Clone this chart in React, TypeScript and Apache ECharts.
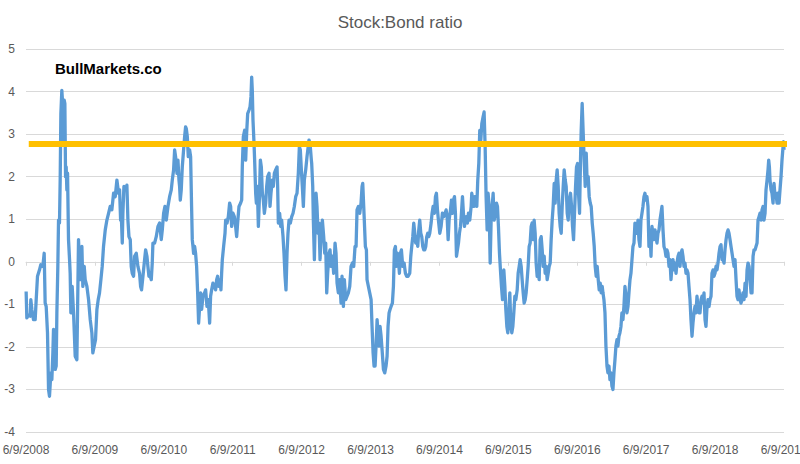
import React, { useEffect, useRef } from "react";
import * as echarts from "echarts";

// x = years since 6/9/2008, y = stock:bond ratio
const tickLabels = [
  "6/9/2008", "6/9/2009", "6/9/2010", "6/9/2011", "6/9/2012", "6/9/2013",
  "6/9/2014", "6/9/2015", "6/9/2016", "6/9/2017", "6/9/2018", "6/9/2019",
];

const seg2008: number[][] = [
  [0.002,-0.70],[0.012,-1.32],[0.036,-1.25],[0.061,-1.28],[0.070,-0.89],[0.085,-1.12],[0.109,-1.36],[0.133,-1.36],[0.148,-0.89],[0.167,-0.34],[0.196,-0.19],[0.215,-0.07],[0.244,-0.11],[0.264,0.20],[0.278,-0.97],[0.293,-1.05],[0.312,-1.67],[0.327,-3.00],[0.341,-3.16],[0.361,-2.61],[0.375,-2.77],[0.390,-2.14],[0.399,-1.59],[0.409,-1.67],[0.424,-2.53],[0.438,-2.45],[0.448,-1.20],[0.462,-0.11],[0.472,0.98],[0.486,0.91],[0.496,1.92],[0.506,3.48],[0.520,4.03],[0.535,3.64],[0.545,2.86],[0.554,3.80],[0.564,3.72],[0.574,2.00],[0.583,2.23],[0.593,1.69],[0.603,2.08],[0.617,0.52],[0.632,0.05],[0.641,-0.27],[0.651,-1.20],[0.670,-0.58],[0.690,-1.20],[0.714,-2.22],[0.738,-2.30],[0.748,-1.20],[0.762,0.52],[0.787,-0.42],[0.811,0.36],[0.825,-0.58],[0.845,-0.11],[0.859,-0.42],[0.884,-0.58],[0.908,-0.89],[0.932,-1.36],[0.956,-1.67],[0.970,-2.14],[0.990,-1.98],[1.009,-1.83],[1.029,-1.12],[1.048,-0.89],[1.067,-0.73],[1.087,-0.42],[1.106,-0.11],[1.125,0.36],[1.150,0.75],[1.174,0.98],[1.198,1.14],[1.222,1.30],[1.246,1.22],[1.271,1.61],[1.295,1.53],[1.319,1.92],[1.343,1.61],
];

const seg2009: number[][] = [
  [1.358,1.69],[1.373,0.98],[1.382,1.14],[1.397,0.44],[1.406,1.14],[1.421,1.77],[1.445,1.69],[1.464,1.80],[1.479,0.98],[1.494,0.59],[1.513,0.52],[1.527,-0.11],[1.542,-0.27],[1.561,-0.34],[1.576,0.13],[1.600,0.20],[1.624,-0.11],[1.648,-0.27],[1.663,-0.58],[1.677,-0.66],[1.697,-0.34],[1.721,0.05],[1.736,0.28],[1.755,0.13],[1.769,-0.11],[1.784,-0.34],[1.803,-0.34],[1.818,-0.42],[1.832,-0.03],[1.842,0.44],[1.866,0.44],[1.890,0.59],[1.915,0.83],[1.939,0.91],[1.963,0.52],[1.978,0.75],[1.997,1.14],[2.016,1.30],[2.036,0.98],[2.060,1.30],[2.084,1.53],[2.108,1.69],[2.123,1.92],[2.142,2.16],[2.157,2.63],[2.171,2.47],[2.191,2.08],[2.205,2.39],[2.220,1.92],[2.229,1.77],[2.239,1.45],[2.253,1.69],[2.268,2.23],[2.287,2.63],[2.302,2.94],[2.316,3.17],[2.326,3.13],[2.341,2.94],[2.355,2.47],[2.374,2.63],[2.389,2.47],[2.403,1.30],[2.413,0.52],[2.423,0.36],[2.432,0.20],[2.447,0.36],[2.461,0.20],[2.476,-0.11],[2.491,-0.73],[2.505,-1.44],[2.520,-1.05],[2.534,-0.73],[2.549,-1.12],[2.568,-0.81],[2.592,-0.73],[2.607,-0.66],[2.626,-1.05],[2.645,-0.89],[2.665,-1.44],[2.679,-0.81],[2.694,-0.66],[2.713,-0.50],[2.733,-0.58],
];

const seg2011: number[][] = [
  [2.752,-0.66],[2.767,-0.42],[2.781,-0.34],[2.800,-0.58],[2.815,-0.42],[2.829,-0.66],[2.839,-0.27],[2.849,0.05],[2.868,0.36],[2.888,0.67],[2.897,0.98],[2.917,0.91],[2.936,1.06],[2.955,1.38],[2.970,1.30],[2.984,0.83],[3.004,1.14],[3.023,1.06],[3.042,0.83],[3.057,0.59],[3.071,0.91],[3.091,1.30],[3.115,1.38],[3.130,1.45],[3.139,2.23],[3.154,2.94],[3.173,3.09],[3.188,2.39],[3.202,3.02],[3.217,3.48],[3.236,3.56],[3.251,3.64],[3.265,3.88],[3.275,4.34],[3.284,4.03],[3.294,3.33],[3.309,2.78],[3.318,2.39],[3.333,1.61],[3.343,1.38],[3.357,1.77],[3.372,0.83],[3.386,1.45],[3.401,2.39],[3.415,2.23],[3.430,1.61],[3.444,1.45],[3.459,1.14],[3.478,1.38],[3.493,1.77],[3.507,2.00],[3.527,2.08],[3.541,1.30],[3.555,1.61],[3.575,1.92],[3.589,1.77],[3.604,2.08],[3.623,2.16],[3.643,2.23],[3.652,1.77],[3.662,0.91],[3.681,1.14],[3.696,0.83],[3.710,0.98],[3.730,0.59],[3.744,0.20],[3.759,-0.34],[3.773,-0.66],[3.788,0.20],[3.802,0.67],[3.817,0.98],[3.836,0.91],[3.856,1.06],[3.875,1.14],[3.894,1.30],[3.914,1.53],[3.933,1.61],[3.952,2.08],[3.967,2.70],[3.981,2.63],[3.996,2.16],[4.010,1.77],[4.025,1.30],[4.039,1.92],[4.059,2.16],[4.078,2.47],[4.107,2.86],[4.122,2.78],[4.141,2.39],
];

const seg2012: number[][] = [
  [4.146,2.31],[4.161,1.77],[4.170,0.98],[4.185,0.05],[4.194,0.75],[4.209,1.61],[4.223,1.30],[4.238,0.67],[4.252,0.91],[4.267,0.05],[4.282,0.67],[4.301,0.98],[4.320,0.59],[4.335,0.20],[4.349,0.44],[4.364,-0.73],[4.378,-0.27],[4.398,0.20],[4.412,0.28],[4.427,-0.11],[4.446,0.13],[4.465,-0.27],[4.485,0.44],[4.499,0.20],[4.514,-0.50],[4.533,-0.73],[4.553,-0.42],[4.572,-0.97],[4.586,-0.34],[4.606,-1.05],[4.620,-0.42],[4.640,-0.89],[4.659,-0.81],[4.678,-0.73],[4.698,-0.58],[4.717,-0.11],[4.737,-0.03],[4.756,-0.11],[4.775,0.36],[4.790,0.36],[4.804,1.22],[4.824,1.30],[4.843,1.14],[4.862,1.38],[4.877,1.77],[4.887,1.84],[4.901,1.30],[4.911,0.91],[4.925,0.36],[4.940,0.28],[4.949,-0.42],[4.969,-0.58],[4.988,-0.73],[5.008,-0.89],[5.022,-1.52],[5.037,-2.14],[5.051,-2.45],[5.066,-2.45],[5.080,-1.98],[5.095,-1.36],[5.109,-1.67],[5.124,-1.98],[5.138,-1.52],[5.153,-1.75],[5.167,-2.06],[5.187,-2.53],[5.206,-2.61],[5.225,-2.45],[5.240,-2.22],[5.254,-1.52],[5.269,-1.20],[5.283,-1.12],[5.298,-1.05],[5.317,-0.97],[5.332,-0.58],[5.346,0.28],[5.361,0.36],[5.375,-0.11],[5.390,0.20],[5.404,0.05],[5.419,-0.27],[5.433,0.20],[5.448,0.28],[5.467,-0.11],[5.487,-0.03],[5.506,-0.27],[5.525,-0.34],[5.545,-0.34],
];

const seg2014: number[][] = [
  [5.555,-0.34],[5.569,-0.27],[5.584,0.13],[5.598,0.36],[5.613,0.59],[5.627,0.91],[5.642,0.67],[5.656,0.44],[5.671,0.59],[5.685,0.36],[5.700,0.75],[5.714,0.98],[5.729,0.67],[5.743,0.59],[5.758,0.36],[5.772,0.28],[5.787,0.28],[5.801,0.36],[5.816,0.59],[5.830,0.67],[5.845,0.59],[5.859,0.67],[5.879,0.91],[5.893,1.14],[5.908,1.30],[5.927,1.14],[5.942,1.53],[5.956,1.61],[5.971,1.22],[5.985,0.98],[6.005,0.67],[6.024,0.83],[6.043,1.14],[6.063,1.06],[6.082,1.14],[6.097,1.22],[6.111,1.06],[6.126,0.52],[6.140,0.98],[6.160,1.22],[6.174,1.45],[6.189,1.14],[6.203,1.45],[6.218,1.53],[6.232,1.14],[6.247,0.13],[6.261,0.28],[6.276,0.44],[6.290,0.67],[6.305,0.83],[6.319,1.14],[6.334,1.53],[6.348,1.14],[6.363,0.83],[6.377,0.98],[6.392,1.06],[6.406,0.91],[6.421,1.14],[6.440,0.98],[6.460,1.30],[6.469,1.61],[6.484,1.45],[6.498,1.30],[6.513,1.53],[6.527,1.53],[6.542,1.30],[6.556,1.92],[6.571,2.31],[6.585,3.09],[6.600,2.86],[6.615,3.25],[6.634,3.41],[6.648,3.52],[6.663,2.70],[6.677,1.53],[6.692,0.75],[6.706,1.61],[6.721,1.30],[6.736,-0.03],[6.750,0.98],[6.765,1.30],[6.779,1.61],[6.794,0.98],[6.813,1.14],[6.827,1.38],[6.842,1.30],[6.856,0.83],[6.871,0.20],[6.885,-0.19],[6.900,-0.58],[6.915,-0.89],[6.929,-0.42],
];

const seg2015: number[][] = [
  [6.934,-0.19],[6.949,-0.58],[6.963,-1.12],[6.978,-1.52],[6.992,-1.67],[7.007,-1.20],[7.021,-0.73],[7.036,-1.52],[7.050,-1.67],[7.065,-1.52],[7.079,-1.20],[7.094,-0.81],[7.108,-0.89],[7.128,-0.66],[7.142,-0.27],[7.157,-0.11],[7.171,0.05],[7.186,-0.11],[7.200,-0.42],[7.215,-0.73],[7.229,-0.97],[7.244,-0.89],[7.258,-0.73],[7.273,-0.42],[7.287,-0.11],[7.302,0.36],[7.316,0.44],[7.331,0.83],[7.345,0.91],[7.360,0.52],[7.374,0.98],[7.389,0.67],[7.403,-0.03],[7.418,-0.34],[7.433,-0.19],[7.447,-0.42],[7.462,0.52],[7.476,0.59],[7.491,0.28],[7.505,-0.11],[7.520,0.13],[7.534,-0.27],[7.549,-0.11],[7.563,-0.42],[7.578,-0.27],[7.592,-0.11],[7.607,-0.03],[7.621,0.52],[7.636,0.98],[7.650,1.30],[7.665,1.84],[7.679,1.38],[7.694,1.92],[7.708,2.16],[7.723,1.77],[7.737,1.14],[7.752,0.83],[7.767,0.67],[7.781,1.30],[7.796,1.77],[7.810,2.16],[7.825,1.92],[7.839,1.77],[7.854,1.14],[7.868,0.98],[7.883,1.45],[7.902,1.61],[7.917,1.30],[7.931,0.83],[7.946,0.52],[7.960,1.14],[7.975,1.77],[7.989,2.23],[8.004,2.31],[8.018,1.61],[8.033,1.14],[8.047,2.39],[8.057,3.09],[8.071,3.72],[8.086,3.02],[8.100,2.39],[8.115,1.77],[8.130,2.55],[8.144,1.84],[8.159,2.00],[8.173,1.53],[8.188,1.38],[8.202,1.30],[8.217,0.91],[8.231,0.67],[8.246,0.36],[8.260,-0.11],[8.275,-0.34],[8.289,-0.11],[8.304,-0.42],[8.318,-0.66],[8.333,-0.50],[8.347,-0.73],[8.362,-0.58],
];

const seg2016: number[][] = [
  [8.373,-0.73],[8.387,-0.89],[8.402,-1.20],[8.416,-1.98],[8.431,-2.45],[8.445,-2.61],[8.460,-2.45],[8.474,-2.77],[8.489,-2.61],[8.503,-2.92],[8.518,-3.00],[8.532,-2.61],[8.547,-2.30],[8.561,-1.98],[8.576,-1.83],[8.590,-1.98],[8.605,-1.75],[8.619,-1.67],[8.634,-1.52],[8.648,-1.20],[8.663,-1.36],[8.677,-1.05],[8.692,-0.58],[8.707,-0.81],[8.721,-1.20],[8.736,-1.05],[8.750,-0.73],[8.765,-0.42],[8.779,-0.27],[8.794,0.05],[8.808,0.36],[8.823,0.44],[8.837,0.91],[8.852,0.75],[8.866,0.67],[8.881,0.98],[8.895,0.52],[8.910,0.36],[8.924,0.98],[8.939,1.14],[8.953,1.30],[8.968,1.53],[8.982,1.61],[8.997,1.45],[9.011,1.53],[9.026,1.30],[9.040,0.36],[9.055,0.75],[9.070,0.13],[9.084,0.83],[9.099,0.67],[9.113,0.52],[9.128,0.75],[9.142,0.59],[9.157,0.44],[9.171,0.67],[9.186,0.75],[9.200,0.98],[9.215,1.14],[9.229,1.30],[9.244,0.75],[9.258,0.36],[9.273,0.28],[9.287,0.13],[9.302,0.28],[9.316,0.20],[9.331,-0.11],[9.345,0.05],[9.360,-0.42],[9.374,-0.11],[9.389,0.05],[9.403,-0.19],[9.418,-0.03],[9.433,-0.27],[9.447,-0.03],[9.462,0.13],[9.476,0.20],[9.491,-0.11],[9.505,0.20],[9.520,0.28],[9.534,0.13],[9.549,-0.11],[9.563,-0.03],[9.578,-0.27],[9.592,-0.19],[9.607,-0.27],[9.621,-0.58],[9.636,-0.89],[9.650,-1.36],[9.665,-1.75],[9.679,-1.44],[9.694,-1.20],[9.708,-1.05],[9.723,-1.20],[9.737,-0.81],[9.752,-1.05],[9.766,-1.20],
];

const seg2018: number[][] = [
  [9.781,-1.20],[9.796,-0.89],[9.810,-0.81],[9.825,-0.97],[9.839,-0.73],[9.854,-1.36],[9.868,-1.52],[9.883,-1.05],[9.897,-0.89],[9.912,-1.05],[9.926,-0.89],[9.941,-0.81],[9.955,-0.27],[9.970,-0.19],[9.984,-0.34],[9.999,-0.27],[10.013,-0.11],[10.028,-0.19],[10.042,-0.03],[10.057,0.20],[10.072,0.36],[10.086,0.40],[10.101,0.05],[10.115,0.05],[10.130,-0.03],[10.144,0.28],[10.159,0.52],[10.173,0.67],[10.188,0.75],[10.202,0.67],[10.217,0.52],[10.231,0.36],[10.246,0.20],[10.260,0.05],[10.275,-0.11],[10.289,0.05],[10.304,-0.42],[10.318,-0.81],[10.333,-0.89],[10.347,-0.66],[10.362,-0.89],[10.376,-0.97],[10.391,-0.89],[10.405,-0.73],[10.420,-0.89],[10.435,-0.50],[10.449,-0.81],[10.464,-0.19],[10.478,-0.03],[10.493,-0.11],[10.507,-0.42],[10.522,-0.73],[10.536,-0.73],[10.551,0.13],[10.565,0.28],[10.580,0.28],[10.594,0.36],[10.609,0.44],[10.623,0.98],[10.638,1.06],[10.652,1.14],[10.667,0.98],[10.681,1.22],[10.696,1.30],[10.710,0.98],[10.725,1.14],[10.739,1.69],[10.754,1.92],[10.768,2.16],[10.778,2.39],[10.788,2.23],[10.797,1.92],[10.812,1.69],[10.826,1.61],[10.841,1.38],[10.855,1.84],[10.870,1.53],[10.884,1.61],[10.899,1.38],[10.913,1.61],[10.928,1.38],[10.942,1.69],[10.957,2.00],[10.971,2.39],[10.986,2.70],[10.995,2.82],[11.0,2.63],
];

const thresholdValue = 2.77;
const thresholdSpan = [0.04, 11.11];

const GREY = "#595959";
const FONT = "Liberation Sans";

export default function App() {
  const ref = useRef<HTMLDivElement>(null);
  useEffect(() => {
    if (!ref.current) return;
    const chart = echarts.init(ref.current, undefined, { renderer: "svg" });
    const ratioData = [
      ...seg2008, ...seg2009, ...seg2011, ...seg2012,
      ...seg2014, ...seg2015, ...seg2016, ...seg2018,
    ];
    chart.setOption({
      animation: false,
      backgroundColor: "#ffffff",
      title: {
        text: "Stock:Bond ratio",
        left: "center",
        top: 9,
        textStyle: { fontFamily: FONT, fontSize: 17, fontWeight: "normal", color: GREY },
      },
      graphic: [
        {
          type: "text",
          x: 55,
          y: 68,
          style: {
            text: "BullMarkets.co",
            font: `bold 15px "${FONT}"`,
            fill: "#000000",
            textAlign: "left",
            textVerticalAlign: "middle",
          },
          z: 10,
        },
      ],
      grid: {
        left: 26,
        right: 16,
        top: 49,
        bottom: 32,
        containLabel: false,
        outerBoundsMode: "none",
      },
      xAxis: [
        {
          type: "value",
          min: 0,
          max: 11,
          interval: 1,
          position: "bottom",
          axisLine: { show: false, onZero: false },
          axisTick: { show: false },
          splitLine: { show: false },
          axisLabel: {
            color: GREY,
            fontFamily: FONT,
            fontSize: 12,
            margin: 12,
            showMinLabel: true,
            showMaxLabel: true,
            hideOverlap: false,
            formatter: (v: number) => tickLabels[Math.round(v)] ?? "",
          },
        },
        {
          type: "value",
          min: 0,
          max: 11,
          interval: 1,
          position: "bottom",
          axisLine: { show: true, onZero: true, lineStyle: { color: "#D9D9D9", width: 1 } },
          axisTick: { show: true, length: 4, lineStyle: { color: "#D9D9D9" } },
          axisLabel: { show: false },
          splitLine: { show: false },
        },
      ],
      yAxis: {
        type: "value",
        min: -4,
        max: 5,
        interval: 1,
        axisLine: { show: false },
        axisTick: { show: false },
        axisLabel: { color: GREY, fontFamily: FONT, fontSize: 12, margin: 11 },
        splitLine: { lineStyle: { color: "#D9D9D9", width: 1 } },
      },
      series: [
        {
          name: "Stock:Bond ratio",
          type: "line",
          xAxisIndex: 0,
          data: ratioData,
          showSymbol: false,
          symbol: "none",
          lineStyle: { color: "#5B9BD5", width: 3.3, join: "round" },
          z: 2,
        },
        {
          name: "Threshold",
          type: "line",
          xAxisIndex: 0,
          data: thresholdSpan.map((x) => [x, thresholdValue]),
          showSymbol: false,
          symbol: "none",
          clip: false,
          lineStyle: { color: "#FFC000", width: 6 },
          z: 3,
        },
      ],
    });
    return () => chart.dispose();
  }, []);
  return (
    <div
      ref={ref}
      style={{ position: "absolute", left: 0, top: 0, width: 800, height: 464, background: "#fff" }}
    />
  );
}
